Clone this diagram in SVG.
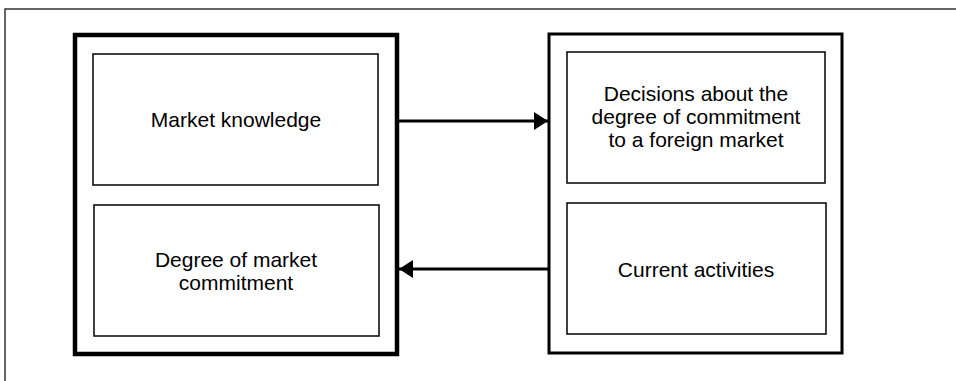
<svg xmlns="http://www.w3.org/2000/svg" width="956" height="381" viewBox="0 0 956 381">
  <style>
    .frame { fill: none; stroke: #333; stroke-width: 1.5; }
    .outer-l { fill: #fff; stroke: #000; stroke-width: 4.5; }
    .outer-r { fill: #fff; stroke: #000; stroke-width: 3; }
    .inner { fill: #fff; stroke: #111; stroke-width: 1.6; }
    .label { font-family: "Liberation Sans", Arial, sans-serif; font-size: 21px; fill: #000; text-anchor: middle; }
    .conn { fill: none; stroke: #000; stroke-width: 3; }
  </style>
  <defs>
    <marker id="arrow" viewBox="0 0 14 18" refX="14" refY="9" markerWidth="14" markerHeight="18" markerUnits="userSpaceOnUse" orient="auto">
      <path d="M0,0 L14,9 L0,18 Z" fill="#000"/>
    </marker>
  </defs>
  <rect width="956" height="381" fill="#fff"/>
  <!-- page frame: top and left rules only -->
  <path class="frame" d="M956,9 H5 V381"/>

  <g id="left-block">
    <rect class="outer-l" x="75" y="35" width="322" height="319"/>
  </g>
  <g id="market-knowledge">
    <rect class="inner" x="93" y="54" width="285" height="131"/>
    <text class="label" x="236" y="127">Market knowledge</text>
  </g>
  <g id="market-commitment">
    <rect class="inner" x="94" y="205" width="285" height="131"/>
    <text class="label" x="236" y="267">Degree of market</text>
    <text class="label" x="236" y="290">commitment</text>
  </g>

  <g id="right-block">
    <rect class="outer-r" x="549" y="34" width="293" height="319"/>
  </g>
  <g id="commitment-decisions">
    <rect class="inner" x="567" y="52" width="258" height="131"/>
    <text class="label" x="696" y="101">Decisions about the</text>
    <text class="label" x="696" y="124">degree of commitment</text>
    <text class="label" x="696" y="147">to a foreign market</text>
  </g>
  <g id="current-activities">
    <rect class="inner" x="567" y="203" width="259" height="131"/>
    <text class="label" x="696" y="277">Current activities</text>
  </g>

  <g id="connectors">
    <line class="conn" x1="399" y1="121" x2="548" y2="121" marker-end="url(#arrow)"/>
    <line class="conn" x1="548" y1="269" x2="399" y2="269" marker-end="url(#arrow)"/>
  </g>
</svg>
